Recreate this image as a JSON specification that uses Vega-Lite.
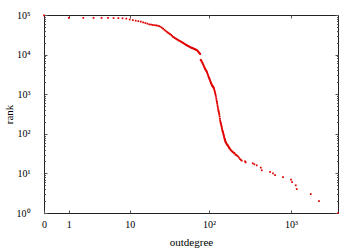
{
  "$schema": "https://vega.github.io/schema/vega-lite/v6.json",
  "width": 294,
  "height": 198,
  "autosize": "none",
  "padding": {"left": 44, "top": 15, "right": 22, "bottom": 39},
  "background": "white",
  "data": {"values": [
    {"outdegree": 0, "rank": 98000}, {"outdegree": 1, "rank": 85000}, {"outdegree": 2, "rank": 84800}, {"outdegree": 3, "rank": 84600},
    {"outdegree": 4, "rank": 84400}, {"outdegree": 5, "rank": 84100}, {"outdegree": 6, "rank": 83800}, {"outdegree": 7, "rank": 83300},
    {"outdegree": 8, "rank": 82600}, {"outdegree": 9, "rank": 81000}, {"outdegree": 10, "rank": 77000}, {"outdegree": 11, "rank": 74500},
    {"outdegree": 12, "rank": 72000}, {"outdegree": 13, "rank": 70000}, {"outdegree": 14, "rank": 68000}, {"outdegree": 15, "rank": 65500},
    {"outdegree": 16, "rank": 63000}, {"outdegree": 17, "rank": 60500}, {"outdegree": 18, "rank": 58000}, {"outdegree": 19, "rank": 57000},
    {"outdegree": 20, "rank": 56000}, {"outdegree": 21, "rank": 55300}, {"outdegree": 22, "rank": 54500}, {"outdegree": 23, "rank": 53800},
    {"outdegree": 24, "rank": 52500}, {"outdegree": 25, "rank": 50500}, {"outdegree": 26, "rank": 47600}, {"outdegree": 27, "rank": 45000},
    {"outdegree": 28, "rank": 42500}, {"outdegree": 29, "rank": 40000}, {"outdegree": 30, "rank": 37700}, {"outdegree": 31, "rank": 36000},
    {"outdegree": 32, "rank": 34500}, {"outdegree": 33, "rank": 33000}, {"outdegree": 34, "rank": 31500}, {"outdegree": 35, "rank": 29800},
    {"outdegree": 36, "rank": 28200}, {"outdegree": 37, "rank": 27200}, {"outdegree": 38, "rank": 26200}, {"outdegree": 39, "rank": 25300},
    {"outdegree": 40, "rank": 24500}, {"outdegree": 41, "rank": 23700}, {"outdegree": 42, "rank": 23000}, {"outdegree": 43, "rank": 22400},
    {"outdegree": 44, "rank": 21900}, {"outdegree": 45, "rank": 21300}, {"outdegree": 46, "rank": 20700}, {"outdegree": 47, "rank": 20200},
    {"outdegree": 48, "rank": 19700}, {"outdegree": 49, "rank": 19200}, {"outdegree": 50, "rank": 18700}, {"outdegree": 51, "rank": 18200},
    {"outdegree": 52, "rank": 17700}, {"outdegree": 53, "rank": 17300}, {"outdegree": 54, "rank": 17000}, {"outdegree": 55, "rank": 16600},
    {"outdegree": 56, "rank": 16300}, {"outdegree": 57, "rank": 16000}, {"outdegree": 58, "rank": 15700}, {"outdegree": 59, "rank": 15400},
    {"outdegree": 60, "rank": 15100}, {"outdegree": 61, "rank": 14900}, {"outdegree": 62, "rank": 14700}, {"outdegree": 63, "rank": 14500},
    {"outdegree": 64, "rank": 14300}, {"outdegree": 65, "rank": 14100}, {"outdegree": 66, "rank": 13900}, {"outdegree": 67, "rank": 13700},
    {"outdegree": 68, "rank": 13500}, {"outdegree": 69, "rank": 13300}, {"outdegree": 70, "rank": 13100}, {"outdegree": 71, "rank": 12900},
    {"outdegree": 72, "rank": 12600}, {"outdegree": 73, "rank": 12200}, {"outdegree": 74, "rank": 11800}, {"outdegree": 75, "rank": 11400},
    {"outdegree": 76, "rank": 11000}, {"outdegree": 77, "rank": 10700}, {"outdegree": 78, "rank": 10300}, {"outdegree": 79, "rank": 7400},
    {"outdegree": 80, "rank": 7100}, {"outdegree": 81, "rank": 6800}, {"outdegree": 82, "rank": 6500}, {"outdegree": 83, "rank": 6200},
    {"outdegree": 84, "rank": 5900}, {"outdegree": 85, "rank": 5600}, {"outdegree": 86, "rank": 5300}, {"outdegree": 87, "rank": 5000},
    {"outdegree": 88, "rank": 4750}, {"outdegree": 89, "rank": 4500}, {"outdegree": 90, "rank": 4300}, {"outdegree": 91, "rank": 4150},
    {"outdegree": 92, "rank": 4000}, {"outdegree": 93, "rank": 3850}, {"outdegree": 94, "rank": 3700}, {"outdegree": 95, "rank": 3500},
    {"outdegree": 96, "rank": 3300}, {"outdegree": 97, "rank": 3100}, {"outdegree": 98, "rank": 2900}, {"outdegree": 99, "rank": 2750},
    {"outdegree": 100, "rank": 2600}, {"outdegree": 101, "rank": 2480}, {"outdegree": 102, "rank": 2360}, {"outdegree": 103, "rank": 2240},
    {"outdegree": 104, "rank": 2120}, {"outdegree": 105, "rank": 2000}, {"outdegree": 106, "rank": 1900}, {"outdegree": 107, "rank": 1820},
    {"outdegree": 108, "rank": 1750}, {"outdegree": 109, "rank": 1680}, {"outdegree": 110, "rank": 1630}, {"outdegree": 111, "rank": 1590},
    {"outdegree": 112, "rank": 1550}, {"outdegree": 113, "rank": 1500}, {"outdegree": 114, "rank": 1450}, {"outdegree": 115, "rank": 1400},
    {"outdegree": 116, "rank": 1310}, {"outdegree": 117, "rank": 1230}, {"outdegree": 118, "rank": 1150}, {"outdegree": 119, "rank": 1070},
    {"outdegree": 120, "rank": 1000}, {"outdegree": 121, "rank": 920}, {"outdegree": 122, "rank": 850}, {"outdegree": 123, "rank": 770},
    {"outdegree": 124, "rank": 700}, {"outdegree": 125, "rank": 640}, {"outdegree": 126, "rank": 590}, {"outdegree": 127, "rank": 530},
    {"outdegree": 128, "rank": 480}, {"outdegree": 129, "rank": 440}, {"outdegree": 130, "rank": 400}, {"outdegree": 131, "rank": 375},
    {"outdegree": 132, "rank": 350}, {"outdegree": 133, "rank": 325}, {"outdegree": 134, "rank": 300}, {"outdegree": 135, "rank": 270},
    {"outdegree": 136, "rank": 240}, {"outdegree": 137, "rank": 220}, {"outdegree": 138, "rank": 200}, {"outdegree": 139, "rank": 190},
    {"outdegree": 140, "rank": 180}, {"outdegree": 141, "rank": 170}, {"outdegree": 142, "rank": 160}, {"outdegree": 143, "rank": 150},
    {"outdegree": 144, "rank": 140}, {"outdegree": 145, "rank": 130}, {"outdegree": 146, "rank": 120}, {"outdegree": 147, "rank": 116},
    {"outdegree": 148, "rank": 112}, {"outdegree": 149, "rank": 106}, {"outdegree": 150, "rank": 100}, {"outdegree": 151, "rank": 95},
    {"outdegree": 152, "rank": 90}, {"outdegree": 153, "rank": 85}, {"outdegree": 154, "rank": 80}, {"outdegree": 155, "rank": 76},
    {"outdegree": 156, "rank": 73}, {"outdegree": 157, "rank": 70}, {"outdegree": 158, "rank": 67}, {"outdegree": 159, "rank": 64},
    {"outdegree": 160, "rank": 62}, {"outdegree": 162, "rank": 59}, {"outdegree": 164, "rank": 56}, {"outdegree": 166, "rank": 54},
    {"outdegree": 168, "rank": 52}, {"outdegree": 170, "rank": 51}, {"outdegree": 172, "rank": 49}, {"outdegree": 174, "rank": 47},
    {"outdegree": 176, "rank": 45}, {"outdegree": 178, "rank": 43}, {"outdegree": 180, "rank": 42}, {"outdegree": 183, "rank": 40},
    {"outdegree": 186, "rank": 38}, {"outdegree": 190, "rank": 37}, {"outdegree": 194, "rank": 35}, {"outdegree": 198, "rank": 34},
    {"outdegree": 202, "rank": 33}, {"outdegree": 206, "rank": 32}, {"outdegree": 210, "rank": 30}, {"outdegree": 215, "rank": 29},
    {"outdegree": 220, "rank": 28}, {"outdegree": 226, "rank": 27}, {"outdegree": 233, "rank": 25}, {"outdegree": 240, "rank": 23},
    {"outdegree": 245, "rank": 22}, {"outdegree": 252, "rank": 21}, {"outdegree": 276, "rank": 20}, {"outdegree": 281, "rank": 19},
    {"outdegree": 343, "rank": 18}, {"outdegree": 358, "rank": 17}, {"outdegree": 383, "rank": 16}, {"outdegree": 429, "rank": 14},
    {"outdegree": 441, "rank": 12}, {"outdegree": 557, "rank": 11}, {"outdegree": 605, "rank": 10}, {"outdegree": 641, "rank": 9},
    {"outdegree": 801, "rank": 8}, {"outdegree": 1002, "rank": 7}, {"outdegree": 1031, "rank": 6}, {"outdegree": 1143, "rank": 5},
    {"outdegree": 1175, "rank": 4}, {"outdegree": 1741, "rank": 3}, {"outdegree": 2194, "rank": 2}, {"outdegree": 3730, "rank": 1}
  ]},
  "layer": [
    {
      "mark": {"type": "square", "size": 3, "color": "#e00000", "opacity": 1, "filled": true},
      "encoding": {
        "x": {"field": "outdegree", "type": "quantitative",
              "scale": {"type": "symlog", "constant": 1, "domain": [0, 3730], "nice": false, "zero": false},
              "axis": {"orient": "bottom", "title": "outdegree", "values": [0, 1, 10, 100, 1000],
                       "labelExpr": "datum.value == 0 ? '0' : datum.value == 1 ? '1' : datum.value == 10 ? '10' : datum.value == 100 ? '10²' : '10³'",
                       "tickSize": -3, "labelPadding": 9, "titlePadding": 7, "labelFlush": false, "labelOverlap": false}},
        "y": {"field": "rank", "type": "quantitative",
              "scale": {"type": "log", "domain": [1, 100000], "nice": false},
              "axis": {"orient": "left", "title": "rank", "values": [1, 10, 100, 1000, 10000, 100000],
                       "labelExpr": "datum.value == 1 ? '10⁰' : datum.value == 10 ? '10¹' : datum.value == 100 ? '10²' : datum.value == 1000 ? '10³' : datum.value == 10000 ? '10⁴' : '10⁵'",
                       "tickSize": -3, "labelPadding": 17, "titlePadding": 2, "labelFlush": false, "labelOverlap": false}}
      }
    },
    {
      "mark": {"type": "square", "opacity": 0},
      "encoding": {
        "x": {"field": "outdegree", "type": "quantitative",
              "scale": {"type": "symlog", "constant": 1, "domain": [0, 3730], "nice": false, "zero": false},
              "axis": {"orient": "top", "title": null, "values": [1, 10, 100, 1000], "labels": false, "tickSize": -3}},
        "y": {"field": "rank", "type": "quantitative",
              "scale": {"type": "log", "domain": [1, 100000], "nice": false},
              "axis": {"orient": "right", "title": null, "values": [1, 10, 100, 1000, 10000, 100000], "labels": false, "tickSize": -3}}
      }
    },
    {
      "mark": {"type": "square", "opacity": 0},
      "encoding": {
        "x": {"field": "outdegree", "type": "quantitative", "axis": null},
        "y": {"field": "rank", "type": "quantitative",
              "axis": {"orient": "left", "title": null, "labels": false, "tickSize": -1.5,
                       "values": [2,3,4,5,6,7,8,9,20,30,40,50,60,70,80,90,200,300,400,500,600,700,800,900,2000,3000,4000,5000,6000,7000,8000,9000,20000,30000,40000,50000,60000,70000,80000,90000]}}
      }
    },
    {
      "mark": {"type": "square", "opacity": 0},
      "encoding": {
        "x": {"field": "outdegree", "type": "quantitative", "axis": null},
        "y": {"field": "rank", "type": "quantitative",
              "axis": {"orient": "right", "title": null, "labels": false, "tickSize": -1.5,
                       "values": [2,3,4,5,6,7,8,9,20,30,40,50,60,70,80,90,200,300,400,500,600,700,800,900,2000,3000,4000,5000,6000,7000,8000,9000,20000,30000,40000,50000,60000,70000,80000,90000]}}
      }
    }
  ],
  "resolve": {"axis": {"x": "independent", "y": "independent"}},
  "config": {
    "view": {"stroke": "#222", "strokeWidth": 1},
    "axis": {"domain": false, "grid": false, "tickColor": "#555", "tickWidth": 1,
             "labelFont": "Liberation Serif", "labelFontSize": 10, "labelColor": "#000",
             "titleFont": "Liberation Serif", "titleFontSize": 11, "titleFontWeight": "normal", "titleColor": "#000"}
  }
}
